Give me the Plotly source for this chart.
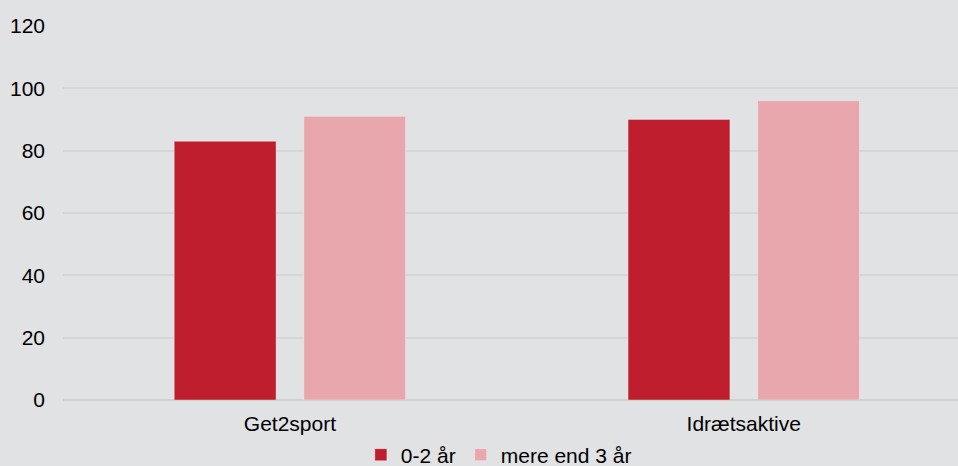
import plotly.graph_objects as go

categories = ["Get2sport", "Idrætsaktive"]
series_names = ["0-2 år", "mere end 3 år"]
values_0_2 = [83, 90]
values_3plus = [91, 96]
y_ticks = [0, 20, 40, 60, 80, 100, 120]

colors = ["#be1e2d", "#e8a7ac"]
bg = "#e1e2e4"
font_family = "Liberation Sans, Arial, sans-serif"

fig = go.Figure()
for name, vals, col in zip(series_names, [values_0_2, values_3plus], colors):
    fig.add_trace(go.Bar(
        x=categories, y=vals, name=name,
        marker=dict(color=col, line=dict(color="rgba(255,255,255,0.35)", width=1)),
    ))

fig.update_layout(
    width=958, height=466,
    margin=dict(l=63, r=0, t=25, b=66, autoexpand=False),
    paper_bgcolor=bg,
    plot_bgcolor=bg,
    font=dict(family=font_family, size=21, color="#000000"),
    barmode="group",
    bargap=0.429,
    bargroupgap=0.214,
    showlegend=True,
    legend=dict(
        orientation="h", x=0.487, xanchor="center",
        yref="container", y=1 - 455 / 466, yanchor="middle",
        font=dict(size=21, color="#000000"), itemwidth=30,
        bgcolor="rgba(0,0,0,0)", traceorder="normal",
    ),
    xaxis=dict(
        range=[-0.5, 1.472], showgrid=False, showline=False, zeroline=False,
        ticks="", ticklabelstandoff=9, tickfont=dict(size=21), automargin=False,
    ),
    yaxis=dict(
        range=[0, 120.3], tickvals=y_ticks, showgrid=True, gridcolor="#d5d6d8",
        gridwidth=1.5, zeroline=True, zerolinecolor="#cfd0cc", zerolinewidth=2,
        showline=False, ticks="", ticklabelstandoff=17, tickfont=dict(size=21),
        automargin=False,
    ),
)

fig.write_html(
    "out.html",
    config={"displayModeBar": False},
    post_script="document.body.style.margin='0';document.body.style.background='%s';" % bg,
)
